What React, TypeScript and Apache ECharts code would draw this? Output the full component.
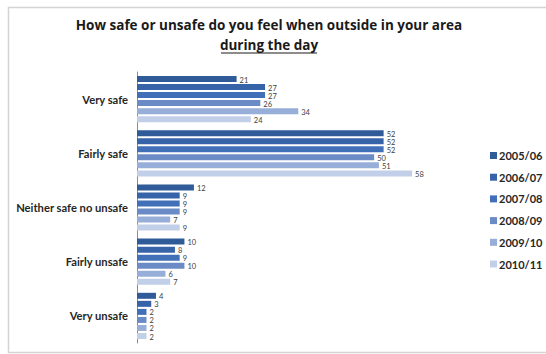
import React, { useEffect, useRef } from "react";
import * as echarts from "echarts";

const categories = ["Very safe", "Fairly safe", "Neither safe no unsafe", "Fairly unsafe", "Very unsafe"];
const years = ["2005/06", "2006/07", "2007/08", "2008/09", "2009/10", "2010/11"];
const v2005 = [21, 52, 12, 10, 4];
const v2006 = [27, 52, 9, 8, 3];
const v2007 = [27, 52, 9, 9, 2];
const v2008 = [26, 50, 9, 10, 2];
const v2009 = [34, 51, 7, 6, 2];
const v2010 = [24, 58, 9, 7, 2];
const seriesValues = [v2005, v2006, v2007, v2008, v2009, v2010];
const colors = ["#2f5b98", "#3763a8", "#4170b8", "#6a8bc6", "#97aed8", "#c2cfe8"];

const FONT = "Lato, 'Open Sans', sans-serif";
const TITLE_FONT = "'Open Sans', Lato, sans-serif";

export default function App() {
  const ref = useRef<HTMLDivElement>(null);

  useEffect(() => {
    document.body.style.margin = "0";
    if (!ref.current) return;
    const chart = echarts.init(ref.current, undefined, { renderer: "svg" });
    chart.setOption({
      animation: false,
      backgroundColor: "#ffffff",
      color: colors,
      grid: { left: 137, top: 72, width: 332, height: 271, containLabel: false },
      legend: {
        orient: "vertical",
        left: 485,
        top: 144,
        itemWidth: 7,
        itemHeight: 7,
        itemGap: 8.7,
        icon: "rect",
        textStyle: { fontFamily: FONT, fontSize: 11, fontWeight: "bold", color: "#262626", lineHeight: 13, padding: [0, 0, 0, -3] },
        data: years,
      },
      xAxis: {
        type: "value",
        min: 0,
        max: 70,
        show: false,
      },
      yAxis: {
        type: "category",
        inverse: true,
        data: categories,
        axisLine: { show: true, lineStyle: { color: "#8c8c8c", width: 1 } },
        axisTick: { show: false },
        axisLabel: { fontFamily: FONT, fontSize: 11.2, fontWeight: "bold", color: "#262626", margin: 9 },
        splitLine: { show: false },
      },
      series: years.map((y, i) => ({
        name: y,
        type: "bar",
        data: seriesValues[i],
        barWidth: 6,
        barGap: "34%",
        itemStyle: { color: colors[i] },
        label: {
          show: true,
          position: "right",
          distance: 3,
          fontFamily: FONT,
          fontSize: 7.5,
          lineHeight: 8,
          color: "#404040",
          offset: [0, 1],
        },
      })),
      graphic: [
        {
          type: "rect",
          shape: { x: 8.5, y: 7.5, width: 560, height: 345 },
          style: { fill: "none", stroke: "#d4d4d4", lineWidth: 1.5 },
          silent: true,
        },
        {
          type: "text",
          x: 269,
          y: 25,
          style: {
            text: "How safe or unsafe do you feel when outside in your area",
            fontFamily: TITLE_FONT,
            fontSize: 13.5,
            fontWeight: "bold",
            fill: "#1a1a1a",
            align: "center",
            verticalAlign: "middle",
          },
        },
        {
          type: "text",
          x: 269,
          y: 45,
          style: {
            text: "during the day",
            fontFamily: TITLE_FONT,
            fontSize: 13.5,
            fontWeight: "bold",
            fill: "#1a1a1a",
            align: "center",
            verticalAlign: "middle",
          },
        },
        {
          type: "line",
          shape: { x1: 221, y1: 53, x2: 317, y2: 53 },
          style: { stroke: "#1a1a1a", lineWidth: 1 },
        },
      ],
    });
    return () => chart.dispose();
  }, []);

  return <div ref={ref} style={{ width: 546, height: 354 }} />;
}
